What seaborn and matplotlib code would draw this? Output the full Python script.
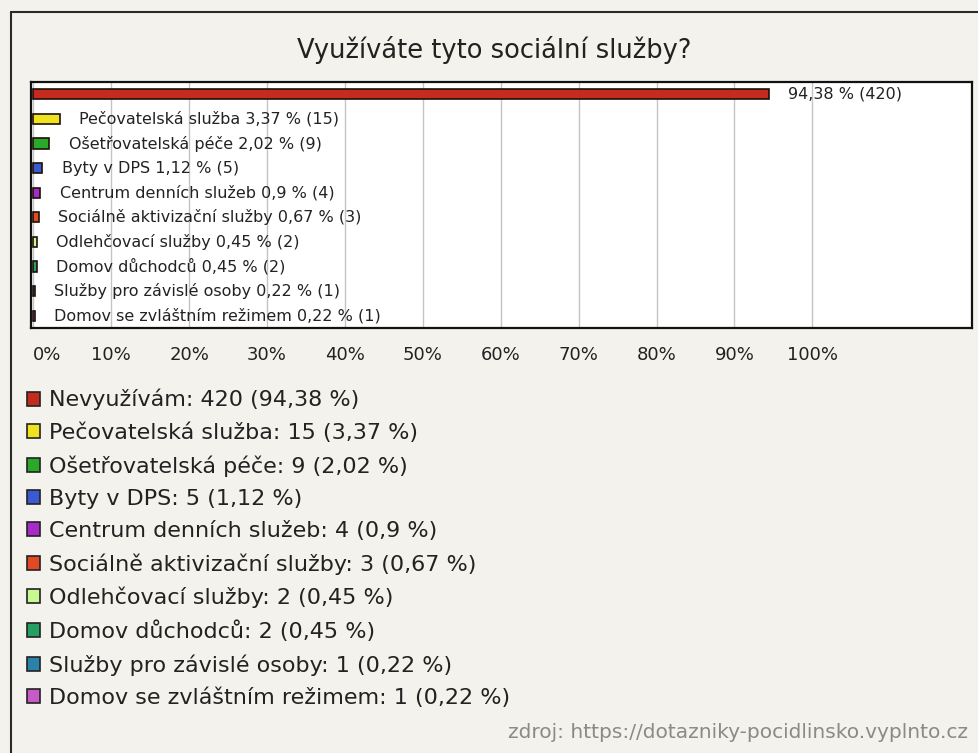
import matplotlib
matplotlib.use("Agg")
import matplotlib.pyplot as plt
import seaborn as sns
import pandas as pd
from matplotlib.patches import Patch
from matplotlib.lines import Line2D

categories = ["Nevyužívám", "Pečovatelská služba", "Ošetřovatelská péče", "Byty v DPS",
              "Centrum denních služeb", "Sociálně aktivizační služby", "Odlehčovací služby",
              "Domov důchodců", "Služby pro závislé osoby", "Domov se zvláštním režimem"]
counts = [420, 15, 9, 5, 4, 3, 2, 2, 1, 1]
percents = [94.38, 3.37, 2.02, 1.12, 0.9, 0.67, 0.45, 0.45, 0.22, 0.22]
colors = ["#c42a1e", "#f0e21e", "#2aa82a", "#3a5ad2", "#a82ac8", "#e24a26",
          "#c8f890", "#26a062", "#2a82a8", "#c85ac8"]
tick_values = list(range(0, 101, 10))
title = "Využíváte tyto sociální služby?"
source = "zdroj: https://dotazniky-pocidlinsko.vyplnto.cz"

def fmt(p):
    return str(p).replace(".", ",")

df = pd.DataFrame({"cat": categories, "pct": percents, "n": counts})

sns.set_style("white")
plt.rcParams["font.family"] = ["DejaVu Sans"]
BG = "#f4f2ec"
fig = plt.figure(figsize=(9.79, 7.53), dpi=100, facecolor=BG)
ax = fig.add_axes([31/979, 1-328/753, 941/979, 246/753])
ax.set_facecolor("white")

sns.barplot(data=df, x="pct", y="cat", hue="cat", palette=colors, legend=False,
            orient="h", width=0.42, saturation=1, edgecolor="#1e1008", linewidth=1.2,
            ax=ax, zorder=3)

ax.set_xlim(-0.3, 120.5)
ax.set_ylim(9.5, -0.5)
ax.set_xticks(tick_values)
ax.set_xticklabels([f"{v}%" for v in tick_values], fontsize=13, color="#222222")
ax.get_xticklabels()[0].set_horizontalalignment("left")
ax.tick_params(axis="x", length=0, pad=13)
ax.set_yticks([])
ax.set_xlabel("")
ax.set_ylabel("")
ax.grid(axis="x", color="#c4c4c4", linewidth=1, zorder=0)
ax.set_axisbelow(True)
for s in ax.spines.values():
    s.set_color("#111111")
    s.set_linewidth(1.6)

for i, (p, n, c) in enumerate(zip(percents, counts, categories)):
    label = f"{fmt(p)} % ({n})" if i == 0 else f"{c} {fmt(p)} % ({n})"
    ax.annotate(label, xy=(p, i), xytext=(14, 0), textcoords="offset points",
                va="center", ha="left", fontsize=11.5, color="#222222")

handles = [Patch(facecolor=col, edgecolor="#222222", linewidth=1.2) for col in colors]
labels = [f"{c}: {n} ({fmt(p)} %)" for c, n, p in zip(categories, counts, percents)]
fig.legend(handles, labels, loc="upper left", bbox_to_anchor=(27/979, 1-389/753),
           frameon=False, fontsize=16, handlelength=0.58, handleheight=0.58,
           handletextpad=0.4, labelspacing=0.545, borderpad=0, borderaxespad=0,
           labelcolor="#222222")

fig.text(494/979, 1-50/753, title, ha="center", va="center", fontsize=18.5, color="#222222")
fig.text(968/979, 1-733/753, source, ha="right", va="center", fontsize=14.5, color="#8a8a8a")

fig.add_artist(Line2D([11/979, 11/979], [1-12/753, 0], transform=fig.transFigure,
                      color="#2a2a2a", linewidth=1.5))
fig.add_artist(Line2D([11/979, 1], [1-12/753, 1-12/753], transform=fig.transFigure,
                      color="#2a2a2a", linewidth=1.5))

fig.savefig("out.png", dpi=100, facecolor=BG)
